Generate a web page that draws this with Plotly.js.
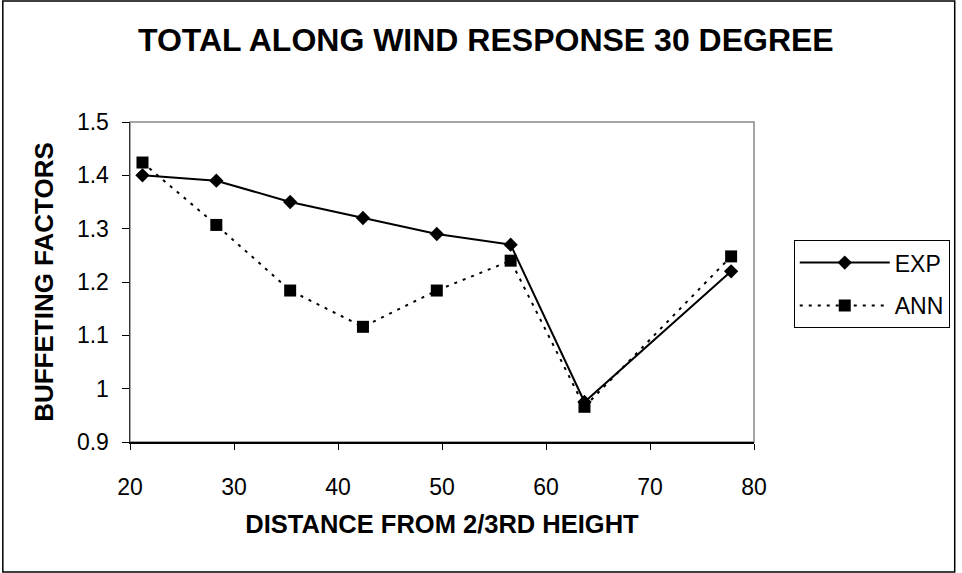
<!DOCTYPE html>
<html>
<head>
<meta charset="utf-8">
<script src="https://cdn.plot.ly/plotly-3.0.1.min.js"></script>
<style>html,body{margin:0;padding:0;background:#fff;}#chart{width:962px;height:573px;}</style>
</head>
<body>
<div id="chart"></div>
<script>
const distance = [21.2, 28.3, 35.4, 42.4, 49.5, 56.6, 63.7, 77.8];
const expValues = [1.40, 1.39, 1.35, 1.32, 1.29, 1.27, 0.975, 1.22];
const annValues = [1.424, 1.307, 1.184, 1.116, 1.184, 1.24, 0.966, 1.248];
const xTicks = [20, 30, 40, 50, 60, 70, 80];
const yTicks = [0.9, 1, 1.1, 1.2, 1.3, 1.4, 1.5];
const yTickText = ['0.9', '1', '1.1', '1.2', '1.3', '1.4', '1.5'];

const font = 'Liberation Sans, Arial, sans-serif';

const traces = [
  {
    x: distance, y: expValues, name: 'EXP', type: 'scatter', mode: 'lines+markers',
    legendgroup: 'exp',
    line: {color: '#000', width: 2},
    marker: {symbol: 'diamond', size: 11, color: '#000'}
  },
  {
    x: distance, y: annValues, name: 'ANN', type: 'scatter', mode: 'lines+markers',
    legendgroup: 'ann',
    line: {color: '#000', width: 2, dash: '3px,6px'},
    marker: {symbol: 'square', size: 12, color: '#000'}
  }
];

const layout = {
  width: 962, height: 573,
  paper_bgcolor: '#fff', plot_bgcolor: '#fff',
  margin: {l: 130, r: 204, t: 122, b: 131},
  font: {family: font, color: '#000', size: 23},
  title: {text: '<b>TOTAL ALONG WIND RESPONSE 30 DEGREE</b>', font: {family: font, size: 32, color: '#000'},
          x: 0.505, xanchor: 'center', y: 0.93, yanchor: 'middle'},
  xaxis: {
    range: [20, 80], tickvals: xTicks, ticktext: xTicks.map(String),
    showgrid: false, zeroline: false, showline: true, linecolor: '#000', linewidth: 1.5,
    ticks: 'outside', ticklen: 6, tickcolor: '#000', tickfont: {size: 23},
    ticklabelstandoff: 18,
    title: {text: '<b>DISTANCE FROM 2/3RD HEIGHT</b>', font: {size: 25.5}, standoff: 16}
  },
  yaxis: {
    range: [0.9, 1.5], tickvals: yTicks, ticktext: yTickText,
    showgrid: false, zeroline: false, showline: true, linecolor: '#333', linewidth: 1.5,
    ticks: 'outside', ticklen: 7, tickcolor: '#000', tickfont: {size: 23},
    ticklabelstandoff: 8,
    title: {text: '<b>BUFFETING FACTORS</b>', font: {size: 26}, standoff: 16}
  },
  legend: {
    x: 1.0637, y: 0.631, xanchor: 'left', yanchor: 'top',
    bordercolor: '#000', borderwidth: 1, bgcolor: '#fff',
    font: {size: 23}, traceorder: 'grouped', tracegroupgap: 10, itemwidth: 90
  },
  showlegend: true,
  shapes: [
    {type: 'rect', xref: 'paper', yref: 'paper', x0: 0, x1: 1, y0: 0, y1: 1,
     line: {color: '#888', width: 1.5}, layer: 'below'},
    {type: 'rect', xref: 'paper', yref: 'paper', x0: -128/628, x1: 1 + 202/628, y0: -130/320, y1: 1 + 121/320,
     line: {color: '#000', width: 1.5}}
  ]
};

Plotly.newPlot('chart', traces, layout, {displayModeBar: false, staticPlot: true});
</script>
</body>
</html>
